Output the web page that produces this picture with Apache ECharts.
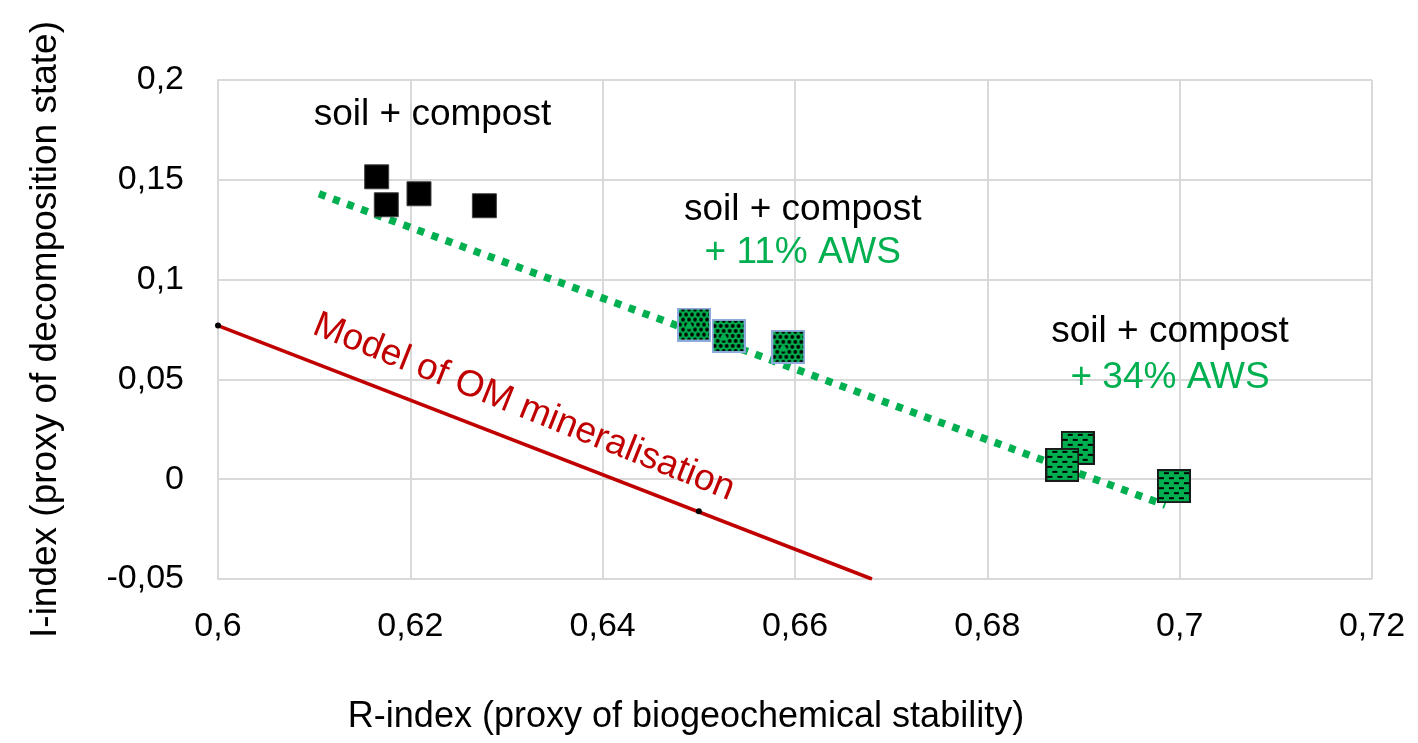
<!DOCTYPE html>
<html>
<head>
<meta charset="utf-8">
<script src="https://cdn.jsdelivr.net/npm/echarts@6/dist/echarts.min.js"></script>
<style>
html,body{margin:0;padding:0;background:#fff;}
#c{width:1418px;height:743px;}
</style>
</head>
<body>
<div id="c"></div>
<script>
// ---- data ----
const soilCompost = [[0.6165, 0.1515], [0.6175, 0.1375], [0.6209, 0.1430], [0.6277, 0.1370]];
const aws11 = [[0.6495, 0.0775], [0.6531, 0.0718], [0.6593, 0.0663]];
const aws34 = [[0.6894, 0.0157], [0.6878, 0.0072], [0.6994, -0.0035]];
const trendLine = [[0.6105, 0.1430], [0.6985, -0.0130]];
const modelLine = [[0.6, 0.0770], [0.6680, -0.0500]];
const modelPoints = [[0.6, 0.0770], [0.65, -0.0160]];
const xTickLabels = ['0,6', '0,62', '0,64', '0,66', '0,68', '0,7', '0,72'];
const yTickLabels = ['-0,05', '0', '0,05', '0,1', '0,15', '0,2'];
const labelsBlack = [{value: [0.6223, 0.1825], text: 'soil + compost'},
                     {value: [0.6608, 0.1349], text: 'soil + compost'},
                     {value: [0.6990, 0.0737], text: 'soil + compost'}];
const labelsGreen = [{value: [0.6608, 0.1133], text: '+ 11% AWS'},
                     {value: [0.6990, 0.0507], text: '+ 34% AWS'}];
const modelLabel = [{value: [0.6318, 0.0360], text: 'Model of OM mineralisation'}];

// ---- marker images (patterned squares) ----
function makeMarker11(size) {
  const c = document.createElement('canvas');
  c.width = size; c.height = size;
  const g = c.getContext('2d');
  g.fillStyle = '#000'; g.fillRect(0, 0, size, size);
  g.strokeStyle = '#00B050'; g.lineWidth = 1.4;
  for (let y = 0, r = 0; y < size + 6; y += 5, r++) {
    const off = (r % 2) * 3;
    for (let x = -3; x < size + 6; x += 6) {
      g.beginPath(); g.arc(x + off + 3, y + 2, 2.6, 0, Math.PI * 2); g.stroke();
    }
  }
  g.fillStyle = '#00B050';
  g.beginPath(); g.arc(size * 0.35, size * 0.55, 3, 0, Math.PI * 2); g.fill();
  g.strokeStyle = '#8FAADC'; g.lineWidth = 2;
  g.strokeRect(1, 1, size - 2, size - 2);
  return 'image://' + c.toDataURL();
}
function makeMarker34(size) {
  const c = document.createElement('canvas');
  c.width = size; c.height = size;
  const g = c.getContext('2d');
  g.fillStyle = '#00B050'; g.fillRect(0, 0, size, size);
  g.fillStyle = '#000';
  let row = 0;
  for (let y = 3; y < size; y += 5, row++) {
    const off = (row % 2) * 5;
    for (let x = -5; x < size; x += 10) {
      g.fillRect(x + off + 2, y, 5, 2);
    }
  }
  g.strokeStyle = '#1a1a1a'; g.lineWidth = 2;
  g.strokeRect(1, 1, size - 2, size - 2);
  return 'image://' + c.toDataURL();
}

const FONT = 'Liberation Sans, Arial, sans-serif';
const chart = echarts.init(document.getElementById('c'), null, {renderer: 'canvas'});

function textSeries(list, color, rotate) {
  return {
    type: 'scatter', symbolSize: 1, silent: true, z: 10,
    itemStyle: {color: 'rgba(0,0,0,0)', opacity: 1},
    data: list.map(d => ({value: d.value, label: {formatter: d.text}})),
    label: {show: true, position: 'inside', color: color, fontSize: 37, opacity: 1,
            fontFamily: FONT, rotate: rotate || 0, align: 'center', verticalAlign: 'middle'}
  };
}

chart.setOption({
  backgroundColor: '#fff',
  animation: false,
  grid: {left: 218, right: 46, top: 80, bottom: 164},
  xAxis: {
    type: 'value', min: 0.6, max: 0.72, interval: 0.02,
    name: 'R-index (proxy of biogeochemical stability)',
    nameLocation: 'middle', nameGap: 120,
    nameTextStyle: {fontSize: 36, color: '#000', fontFamily: FONT, padding: [0, 218, 0, 0]},
    axisLine: {show: true, lineStyle: {color: '#d9d9d9', width: 2}},
    axisTick: {show: false},
    splitLine: {show: true, lineStyle: {color: '#d9d9d9', width: 2}},
    axisLabel: {fontSize: 34, color: '#000', fontFamily: FONT, margin: 31,
                formatter: (v, i) => xTickLabels[i]}
  },
  yAxis: {
    type: 'value', min: -0.05, max: 0.2, interval: 0.05,
    name: 'I-index (proxy of decomposition state)',
    nameLocation: 'middle', nameGap: 154,
    nameTextStyle: {fontSize: 37, color: '#000', fontFamily: FONT},
    axisLine: {show: true, lineStyle: {color: '#d9d9d9', width: 2}},
    axisTick: {show: false},
    splitLine: {show: true, lineStyle: {color: '#d9d9d9', width: 2}},
    axisLabel: {fontSize: 34, color: '#000', fontFamily: FONT, margin: 34,
                formatter: (v, i) => yTickLabels[i]}
  },
  series: [
    {
      type: 'line', data: modelLine, symbol: 'none', z: 3,
      lineStyle: {color: '#C00000', width: 3.5}
    },
    {
      type: 'scatter', data: modelPoints, symbol: 'circle', symbolSize: 6, z: 4,
      itemStyle: {color: '#000', opacity: 1}
    },
    {
      type: 'line', data: trendLine, symbol: 'none', z: 3,
      lineStyle: {color: '#00B050', width: 7.5, type: [7, 8], cap: 'butt'}
    },
    {
      type: 'scatter', data: soilCompost, symbol: 'rect', symbolSize: 24, z: 5,
      itemStyle: {color: '#000', opacity: 1, borderColor: '#404040', borderWidth: 1}
    },
    {
      type: 'scatter', data: aws11, symbol: makeMarker11(34), symbolSize: 34, z: 5,
      itemStyle: {opacity: 1}
    },
    {
      type: 'scatter', data: aws34, symbol: makeMarker34(34), symbolSize: 34, z: 5,
      itemStyle: {opacity: 1}
    },
    textSeries(labelsBlack, '#000'),
    textSeries(labelsGreen, '#00B050'),
    textSeries(modelLabel, '#C00000', -21.8)
  ]
});
</script>
</body>
</html>
